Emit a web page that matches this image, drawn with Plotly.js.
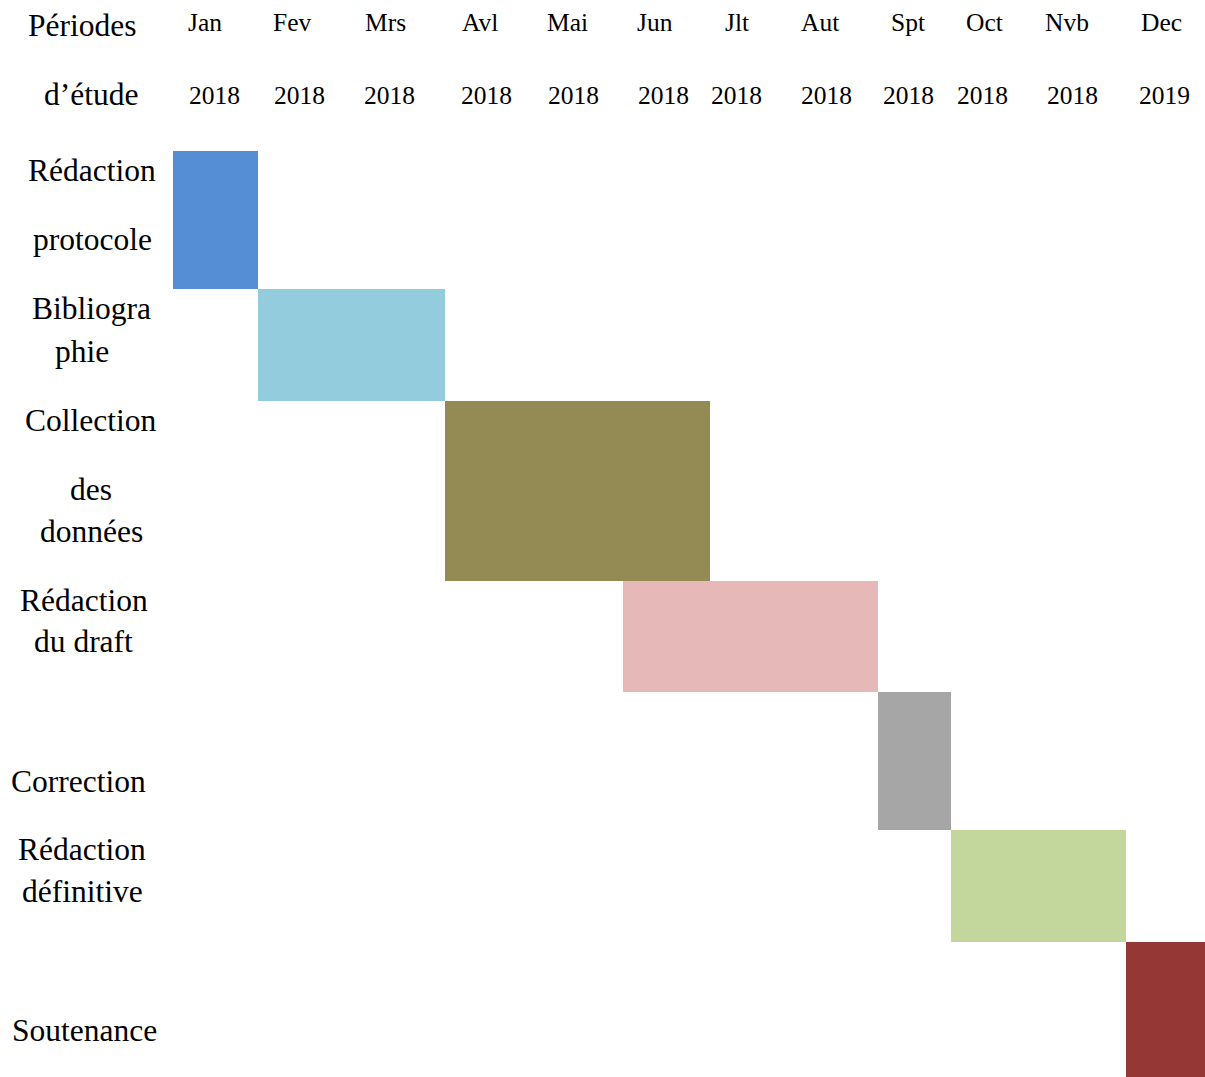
<!DOCTYPE html>
<html>
<head>
<meta charset="utf-8">
<script src="https://cdn.plot.ly/plotly-3.0.1.min.js"></script>
<style>
  html, body { margin: 0; padding: 0; background: #ffffff; }
  #chart { width: 1205px; height: 1077px; }
</style>
</head>
<body>
<div id="chart"></div>
<script>
// Calendar of the study, 2018–2019
const months = ['Jan', 'Fev', 'Mrs', 'Avl', 'Mai', 'Jun', 'Jlt', 'Aut', 'Spt', 'Oct', 'Nvb', 'Dec'];
const years  = ['2018', '2018', '2018', '2018', '2018', '2018', '2018', '2018', '2018', '2018', '2018', '2019'];

// Activities, with first month index and month index after the last one
const tasks = ['Rédaction protocole', 'Bibliographie', 'Collection des données',
               'Rédaction du draft', 'Correction', 'Rédaction définitive', 'Soutenance'];
const taskLines = [
  ['Rédaction', 'protocole'],
  ['Bibliogra', 'phie'],
  ['Collection', 'des', 'données'],
  ['Rédaction', 'du draft'],
  ['Correction'],
  ['Rédaction', 'définitive'],
  ['Soutenance']
];
const startMonth = [0, 1, 3, 5, 8, 9, 11];
const endMonth   = [1, 3, 6, 8, 9, 11, 12];
const taskColors = ['#558ED5', '#93CDDD', '#948A54', '#E6B9B8', '#A6A6A6', '#C3D69B', '#953735'];

// Table grid: column edges for each month and row edges for each activity
const colEdges = [173, 258, 345, 445, 530, 623, 710, 778, 878, 951, 1025, 1126, 1205];
const rowEdges = [151, 289, 401, 581, 692, 830, 942, 1077];

const FONT = 'Liberation Serif, Times New Roman, serif';

const barBase = startMonth.map(s => colEdges[s]);
const barLen  = startMonth.map((s, i) => colEdges[endMonth[i]] - colEdges[s]);
const rowMid  = tasks.map((t, i) => (rowEdges[i] + rowEdges[i + 1]) / 2);
const rowH    = tasks.map((t, i) => rowEdges[i + 1] - rowEdges[i]);

const bars = {
  type: 'bar',
  orientation: 'h',
  y: rowMid,
  x: barLen,
  base: barBase,
  width: rowH,
  text: tasks,
  textposition: 'none',
  hoverinfo: 'text',
  marker: { color: taskColors, line: { width: 0 } },
  showlegend: false
};

// Header text placement (centre x) and row label line placement (centre x, centre y)
const monthX = [205, 292.5, 385, 479.5, 567.5, 655, 736.5, 820, 908, 984, 1067, 1161];
const yearX  = [214, 299, 389, 486, 573, 663, 736, 826, 908, 982, 1072, 1164];
const headY  = [22, 95];
const lineX = [[91.5, 92], [91.5, 81.5], [90.7, 91, 91], [84, 83.7], [78], [81.6, 82.5], [84]];
const lineY = [[170, 239], [308, 351], [420, 489, 531], [600, 641], [781], [849, 891], [1030]];

const annotations = [];
function addText(text, x, y, size) {
  annotations.push({
    text: text, x: x, y: y, xref: 'x', yref: 'y',
    xanchor: 'center', yanchor: 'middle', showarrow: false,
    font: { family: FONT, size: size, color: '#000000' }
  });
}
addText('Périodes', 81.5, 25, 31.5);
addText('d’étude', 90.7, 94, 31.5);
months.forEach((m, i) => addText(m, monthX[i], headY[0], 25.5));
years.forEach((y, i) => addText(y, yearX[i], headY[1], 25.5));
taskLines.forEach((lines, i) => {
  lines.forEach((ln, j) => addText(ln, lineX[i][j], lineY[i][j], 31.5));
});

const layout = {
  width: 1205,
  height: 1077,
  margin: { l: 0, r: 0, t: 0, b: 0, pad: 0 },
  paper_bgcolor: '#ffffff',
  plot_bgcolor: '#ffffff',
  bargap: 0,
  xaxis: { range: [0, 1205], visible: false, fixedrange: true },
  yaxis: { range: [1077, 0], visible: false, fixedrange: true },
  annotations: annotations,
  font: { family: FONT }
};

Plotly.newPlot('chart', [bars], layout, { displayModeBar: false, staticPlot: true });
</script>
</body>
</html>
